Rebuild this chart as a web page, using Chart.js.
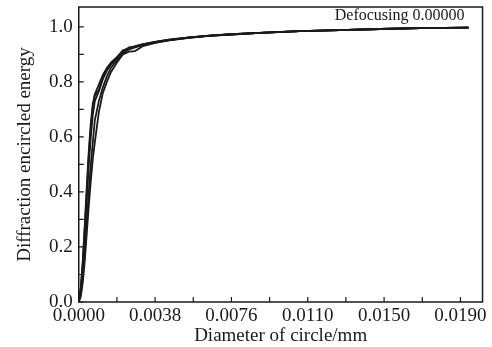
<!DOCTYPE html>
<html>
<head>
<meta charset="utf-8">
<script src="https://cdn.jsdelivr.net/npm/chart.js@4/dist/chart.umd.min.js"></script>
<style>
    html, body { margin: 0; padding: 0; background: #fff; }
    #wrap { width: 492px; height: 347px; }
</style>
</head>
<body>
<div id="wrap"><canvas id="eeChart"></canvas></div>
<script>
// diameter of circle (mm) shared by all curves
const diameters = [0, 0.0001, 0.0002, 0.0003, 0.0004, 0.0005, 0.0006, 0.0007, 0.0008, 0.001, 0.0012, 0.0014, 0.0016, 0.0019,
    0.0022, 0.0025, 0.0028, 0.0032, 0.0038, 0.0045, 0.0055, 0.0065, 0.0076, 0.009, 0.011, 0.013, 0.015, 0.017, 0.0194];

// encircled energy, one array per field
const energyA = [0, 0.05, 0.15, 0.28, 0.42, 0.55, 0.65, 0.72, 0.755, 0.79, 0.825, 0.85, 0.87, 0.89,
    0.915, 0.922, 0.93, 0.937, 0.945, 0.953, 0.962, 0.968, 0.973, 0.978, 0.984, 0.988, 0.992, 0.995, 0.997];
const energyB = [0, 0.02, 0.07, 0.15, 0.25, 0.35, 0.44, 0.52, 0.58, 0.69, 0.76, 0.80, 0.835, 0.87,
    0.90, 0.91, 0.912, 0.93, 0.942, 0.951, 0.96, 0.967, 0.972, 0.978, 0.984, 0.988, 0.992, 0.995, 0.997];
const energyC = [0, 0.04, 0.12, 0.24, 0.37, 0.50, 0.60, 0.68, 0.73, 0.765, 0.81, 0.84, 0.862, 0.885,
    0.91, 0.925, 0.928, 0.935, 0.944, 0.952, 0.961, 0.968, 0.973, 0.978, 0.984, 0.988, 0.992, 0.995, 0.997];
const energyD = [0, 0.03, 0.09, 0.18, 0.29, 0.40, 0.50, 0.58, 0.66, 0.73, 0.78, 0.82, 0.85, 0.88,
    0.905, 0.918, 0.925, 0.933, 0.943, 0.952, 0.961, 0.967, 0.972, 0.978, 0.984, 0.988, 0.992, 0.995, 0.997];
const energyE = [0, 0.05, 0.14, 0.27, 0.40, 0.53, 0.63, 0.71, 0.75, 0.77, 0.815, 0.845, 0.865, 0.888,
    0.912, 0.92, 0.927, 0.936, 0.945, 0.953, 0.962, 0.968, 0.973, 0.978, 0.984, 0.988, 0.992, 0.995, 0.997];

const xTickLabels = ['0.0000', '0.0038', '0.0076', '0.0110', '0.0150', '0.0190'];
const yTickLabels = ['0.0', '0.2', '0.4', '0.6', '0.8', '1.0'];
const legendText = 'Defocusing 0.00000';

const FONT = 'Liberation Serif, Times New Roman, serif';
const INK = '#1a1a1a';

const allEnergy = [energyA, energyB, energyC, energyD, energyE];
const datasets = allEnergy.map(arr => ({
    data: diameters.map((d, i) => ({ x: d, y: arr[i] })),
    borderColor: INK,
    borderWidth: 1.8,
    pointRadius: 0,
    tension: 0,
    fill: false
}));

// frame, inward ticks and the defocus note
const framePlugin = {
    id: 'frame',
    afterDraw(chart) {
        const { ctx, chartArea: a, scales } = chart;
        ctx.save();
        ctx.strokeStyle = INK;
        ctx.lineWidth = 1.5;
        ctx.strokeRect(a.left, a.top, a.right - a.left, a.bottom - a.top);

        ctx.lineWidth = 1.2;
        ctx.beginPath();
        scales.x.ticks.forEach(t => {
            const px = scales.x.getPixelForValue(t.value);
            ctx.moveTo(px, a.bottom);
            ctx.lineTo(px, a.bottom - 5);
        });
        scales.y.ticks.forEach(t => {
            const py = scales.y.getPixelForValue(t.value);
            ctx.moveTo(a.left, py);
            ctx.lineTo(a.left + 5, py);
        });
        ctx.stroke();

        ctx.fillStyle = INK;
        ctx.font = '16px ' + FONT;
        ctx.textAlign = 'right';
        ctx.textBaseline = 'middle';
        ctx.fillText(legendText, a.right - 18, a.top + 9);
        ctx.restore();
    }
};

new Chart(document.getElementById('eeChart'), {
    type: 'line',
    data: { datasets: datasets },
    options: {
        responsive: true,
        maintainAspectRatio: false,
        animation: false,
        layout: { padding: { left: 16, right: 8, top: 7, bottom: 0 } },
        plugins: { legend: { display: false }, tooltip: { enabled: false } },
        scales: {
            x: {
                type: 'linear',
                min: 0,
                max: 0.0201,
                border: { display: false },
                grid: { drawOnChartArea: false, drawTicks: false },
                afterFit: s => { s.height = 45; },
                ticks: {
                    stepSize: 0.0019,
                    includeBounds: false,
                    autoSkip: false,
                    maxRotation: 0,
                    padding: 5,
                    color: INK,
                    font: { family: FONT, size: 19, lineHeight: 1 },
                    callback: (v, i) => (i % 2 === 0 ? xTickLabels[i / 2] : '')
                },
                title: {
                    display: true,
                    text: 'Diameter of circle/mm',
                    color: INK,
                    font: { family: FONT, size: 19, lineHeight: 1 },
                    padding: { top: 0, bottom: 1 }
                }
            },
            y: {
                min: 0,
                max: 1.072,
                border: { display: false },
                grid: { drawOnChartArea: false, drawTicks: false },
                afterFit: s => { s.paddingTop = 0; },
                ticks: {
                    stepSize: 0.1,
                    includeBounds: false,
                    autoSkip: false,
                    padding: 6,
                    color: INK,
                    font: { family: FONT, size: 19, lineHeight: 1 },
                    callback: (v, i) => (i % 2 === 0 ? yTickLabels[i / 2] : '')
                },
                title: {
                    display: true,
                    text: 'Diffraction encircled energy',
                    color: INK,
                    font: { family: FONT, size: 19, lineHeight: 1 },
                    padding: { top: 0, bottom: 8 }
                }
            }
        }
    },
    plugins: [framePlugin]
});
</script>
</body>
</html>
